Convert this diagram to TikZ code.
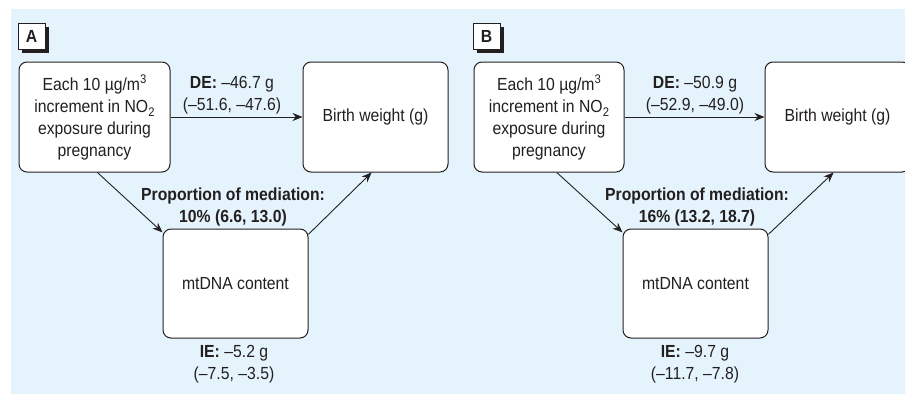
\documentclass[tikz,border=0pt]{standalone}
\usepackage{fontspec}
\setmainfont[FakeStretch=0.9]{Liberation Sans}
\usetikzlibrary{arrows.meta,shadows}
\definecolor{bgblue}{RGB}{229,244,252}
\definecolor{ink}{RGB}{35,31,32}
\newcommand\diagfs{\fontsize{17.5}{22}\selectfont}
\newcommand\mysups[1]{\raisebox{0.75ex}{\fontsize{12.5}{12.5}\selectfont #1}}
\newcommand\mysubs[1]{\raisebox{-0.45ex}{\fontsize{12.5}{12.5}\selectfont #1}}
\begin{document}
\begin{tikzpicture}[x=1pt,y=-1pt,
  box/.style={draw=ink,fill=white,rounded corners=8pt,line width=1pt,minimum height=110pt,inner sep=0pt,align=center,text=ink,font=\diagfs},
  lbl/.style={align=center,text=ink,inner sep=0pt,font=\diagfs},
  arr/.style={draw=ink,line width=0.9pt,-{Stealth[length=10pt,width=8pt]}},
  tagbox/.style={draw=ink,fill=white,line width=1pt,minimum width=27pt,minimum height=26pt,inner sep=0pt,font=\diagfs\bfseries,text=ink,
    drop shadow={shadow xshift=3.5pt,shadow yshift=-3.5pt,fill=ink,opacity=1}}
]
\begin{scope}
\clip (0,0) rectangle (905,394);
\fill[white] (0,0) rectangle (905,394);
\fill[bgblue] (11,9) rectangle (905,394);

% Panel A
\node[tagbox] (tagA) at (31.5,36) {A};
\node[box,minimum width=151pt] (srcA) at (94.5,117) {Each 10 µg/m\mysups{3}\\increment in NO\mysubs{2}\\exposure during\\pregnancy};
\node[box,minimum width=145pt] (bwA) at (375.5,117) {Birth weight (g)};
\node[box,minimum width=145pt,minimum height=109pt] (medA) at (235.5,283.5) {mtDNA content};
\node[lbl] (deA) at (232,95) {\textbf{DE:} –46.7 g\\(–51.6, –47.6)};
\node[lbl] (pmA) at (233,207) {\textbf{Proportion of mediation:}\\\textbf{10\% (6.6, 13.0)}};
\node[lbl] (ieA) at (234,364) {\textbf{IE:} –5.2 g\\(–7.5, –3.5)};
\draw[arr] (srcA.east) -- (bwA.west);
\draw[arr] (srcA.-87) -- (medA.145);
\draw[arr] (medA.34) -- (bwA.-94);

% Panel B
\node[tagbox] (tagB) at (486.5,36) {B};
\node[box,minimum width=150pt] (srcB) at (549,117) {Each 10 µg/m\mysups{3}\\increment in NO\mysubs{2}\\exposure during\\pregnancy};
\node[box,minimum width=145pt] (bwB) at (837.5,117) {Birth weight (g)};
\node[box,minimum width=145pt,minimum height=109pt] (medB) at (695.5,283.5) {mtDNA content};
\node[lbl] (deB) at (695,95) {\textbf{DE:} –50.9 g\\(–52.9, –49.0)};
\node[lbl] (pmB) at (697,207) {\textbf{Proportion of mediation:}\\\textbf{16\% (13.2, 18.7)}};
\node[lbl] (ieB) at (695,364) {\textbf{IE:} –9.7 g\\(–11.7, –7.8)};
\draw[arr] (srcB.east) -- (bwB.west);
\draw[arr] (srcB.-82) -- (medB.145);
\draw[arr] (medB.34) -- (bwB.-94.5);
\end{scope}
\pgfresetboundingbox
\path[use as bounding box] (0,0) rectangle (905,394);
\end{tikzpicture}
\end{document}
